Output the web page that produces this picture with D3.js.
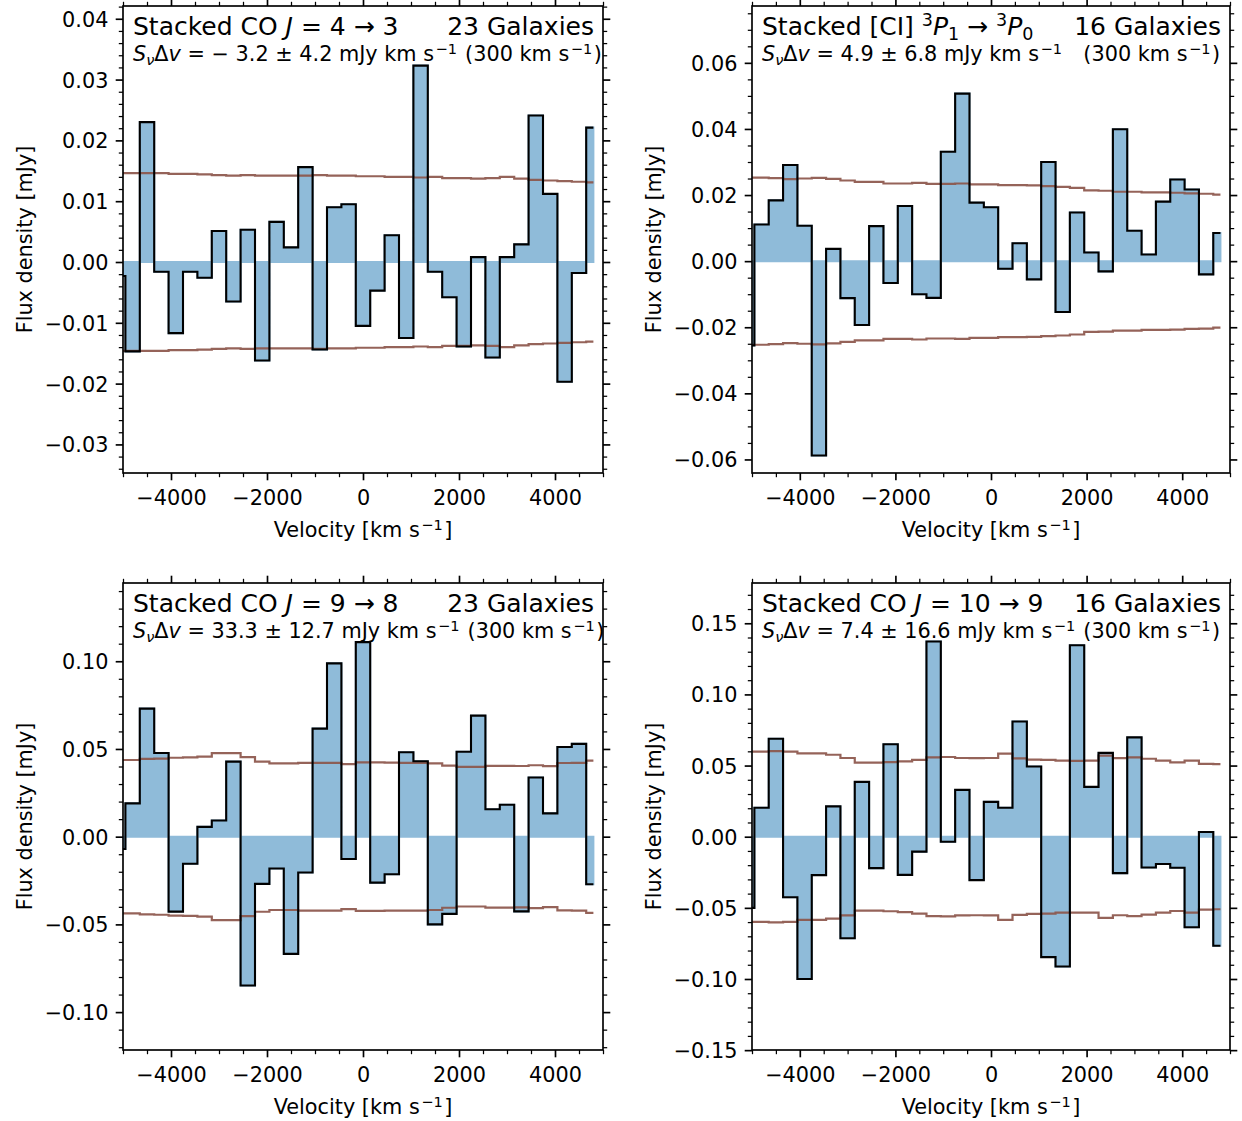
<!DOCTYPE html>
<html><head><meta charset="utf-8">
<script src="https://cdn.jsdelivr.net/npm/d3@7"></script>
<style>
body{margin:0;background:#fff}
svg text{font-family:"DejaVu Sans",sans-serif;white-space:pre}
</style></head><body>
<svg id="c" width="1242" height="1121" xmlns="http://www.w3.org/2000/svg"></svg>
<script>
// ---------------- data ----------------
const velocity = [-5100,-4800,-4500,-4200,-3900,-3600,-3300,-3000,-2700,-2400,-2100,-1800,-1500,-1200,-900,-600,-300,0,300,600,900,1200,1500,1800,2100,2400,2700,3000,3300,3600,3900,4200,4500,4800];
const xTicks = [-4000,-2000,0,2000,4000];

const co43Flux = [-0.0023,-0.0147,0.0230,-0.0016,-0.0117,-0.0016,-0.0026,0.0051,-0.0065,0.0053,-0.0162,0.0066,0.0024,0.0156,-0.0144,0.0090,0.0095,-0.0105,-0.0047,0.0044,-0.0125,0.0323,-0.0016,-0.0058,-0.0139,0.0008,-0.0157,0.0008,0.0029,0.0241,0.0112,-0.0197,-0.0018,0.0221];
const co43Rms = [0.0146,0.0146,0.0146,0.0146,0.0145,0.0145,0.0144,0.0143,0.0142,0.0143,0.0142,0.0142,0.0142,0.0142,0.0143,0.0142,0.0142,0.0141,0.0141,0.0140,0.0140,0.0139,0.0140,0.0138,0.0138,0.0137,0.0138,0.0140,0.0137,0.0135,0.0134,0.0133,0.0132,0.0131];

const ciFlux = [-0.0255,0.0111,0.0184,0.0291,0.0107,-0.0588,0.0037,-0.0112,-0.0193,0.0106,-0.0066,0.0167,-0.0100,-0.0111,0.0331,0.0507,0.0177,0.0163,-0.0023,0.0054,-0.0055,0.0300,-0.0154,0.0147,0.0026,-0.0031,0.0399,0.0092,0.0020,0.0180,0.0247,0.0217,-0.0040,0.0085];
const ciRms = [0.0253,0.0253,0.0251,0.0248,0.0250,0.0252,0.0249,0.0244,0.0240,0.0240,0.0235,0.0235,0.0237,0.0234,0.0234,0.0235,0.0232,0.0232,0.0230,0.0230,0.0229,0.0227,0.0225,0.0222,0.0214,0.0213,0.0210,0.0210,0.0208,0.0208,0.0207,0.0205,0.0204,0.0201];

const co98Flux = [-0.0070,0.0190,0.0730,0.0477,-0.0427,-0.0154,0.0056,0.0092,0.0428,-0.0848,-0.0269,-0.0181,-0.0668,-0.0204,0.0616,0.0988,-0.0127,0.1109,-0.0262,-0.0214,0.0481,0.0430,-0.0500,-0.0440,0.0484,0.0690,0.0156,0.0182,-0.0426,0.0337,0.0133,0.0511,0.0529,-0.0271];
const co98Rms = [0.0437,0.0437,0.0443,0.0445,0.0450,0.0452,0.0456,0.0476,0.0476,0.0453,0.0428,0.0418,0.0418,0.0421,0.0421,0.0421,0.0413,0.0423,0.0423,0.0422,0.0421,0.0421,0.0418,0.0405,0.0398,0.0398,0.0404,0.0404,0.0403,0.0407,0.0402,0.0420,0.0421,0.0434];

const co109Flux = [-0.0500,0.0203,0.0688,-0.0426,-0.1000,-0.0270,0.0213,-0.0714,0.0385,-0.0221,0.0650,-0.0268,-0.0105,0.1372,-0.0035,0.0329,-0.0305,0.0245,0.0203,0.0810,0.0493,-0.0846,-0.0912,0.1345,0.0350,0.0589,-0.0256,0.0698,-0.0216,-0.0192,-0.0218,-0.0636,0.0033,-0.0766];
const co109Rms = [0.0598,0.0598,0.0602,0.0598,0.0585,0.0585,0.0576,0.0553,0.0520,0.0520,0.0524,0.0530,0.0540,0.0558,0.0560,0.0553,0.0552,0.0553,0.0584,0.0550,0.0542,0.0540,0.0534,0.0533,0.0534,0.0570,0.0552,0.0558,0.0548,0.0534,0.0522,0.0534,0.0512,0.0510];

const yTicksCo43 = [-0.03,-0.02,-0.01,0,0.01,0.02,0.03,0.04];
const yTicksCi = [-0.06,-0.04,-0.02,0,0.02,0.04,0.06];
const yTicksCo98 = [-0.10,-0.05,0,0.05,0.10];
const yTicksCo109 = [-0.15,-0.10,-0.05,0,0.05,0.10,0.15];

// ---------------- layout ----------------
const cols = [[123,603],[752,1230]];
const rows = [[6,473],[583,1050]];
const FS = 20.8, TFS = 25;
const fillColor = "#8fbbd9", lineColor = "#000", rmsColor = "#8c564b";

const panels = [
  {flux:co43Flux, rms:co43Rms, yDomain:[-0.0347,0.0421], yTicks:yTicksCo43, yMinor:0.002, col:0, row:0,
   title:[{t:"Stacked CO "},{t:"J",i:1},{t:" = 4 → 3"}], count:"23 Galaxies",
   line:[{t:"S",i:1},{t:"ν",k:"sub",i:1},{t:"Δ"},{t:"v",i:1},{t:" = − 3.2 ± 4.2 mJy km s"},{t:"−1",k:"sup"},{t:" (300 km s"},{t:"−1",k:"sup"},{t:")"}]},
  {flux:ciFlux, rms:ciRms, yDomain:[-0.0641,0.0772], yTicks:yTicksCi, yMinor:0.005, col:1, row:0,
   title:[{t:"Stacked [CI] "},{t:"3",k:"sup"},{t:"P",i:1},{t:"1",k:"sub"},{t:" → "},{t:"3",k:"sup"},{t:"P",i:1},{t:"0",k:"sub"}], count:"16 Galaxies",
   line:[{t:"S",i:1},{t:"ν",k:"sub",i:1},{t:"Δ"},{t:"v",i:1},{t:" = 4.9 ± 6.8 mJy km s"},{t:"−1",k:"sup"},{t:"   (300 km s"},{t:"−1",k:"sup"},{t:")"}]},
  {flux:co98Flux, rms:co98Rms, yDomain:[-0.1216,0.1446], yTicks:yTicksCo98, yMinor:0.01, col:0, row:1,
   title:[{t:"Stacked CO "},{t:"J",i:1},{t:" = 9 → 8"}], count:"23 Galaxies",
   line:[{t:"S",i:1},{t:"ν",k:"sub",i:1},{t:"Δ"},{t:"v",i:1},{t:" = 33.3 ± 12.7 mJy km s"},{t:"−1",k:"sup"},{t:" (300 km s"},{t:"−1",k:"sup"},{t:")"}]},
  {flux:co109Flux, rms:co109Rms, yDomain:[-0.1499,0.1783], yTicks:yTicksCo109, yMinor:0.01, col:1, row:1,
   title:[{t:"Stacked CO "},{t:"J",i:1},{t:" = 10 → 9"}], count:"16 Galaxies",
   line:[{t:"S",i:1},{t:"ν",k:"sub",i:1},{t:"Δ"},{t:"v",i:1},{t:" = 7.4 ± 16.6 mJy km s"},{t:"−1",k:"sup"},{t:" (300 km s"},{t:"−1",k:"sup"},{t:")"}]}
];

const svg = d3.select("#c");

function rich(sel, parts, fs, supGap){
  let shift = 0, prevSup = false;
  parts.forEach(p=>{
    const ts = sel.append("tspan").text(p.t);
    const target = p.k==="sup" ? -0.36*fs : (p.k==="sub" ? 0.2*fs : 0);
    if (target !== shift) ts.attr("dy", target - shift);
    shift = target;
    if (p.k) ts.attr("font-size", 0.7*fs);
    if (p.i) ts.attr("font-style","italic");
    if (supGap && (p.k==="sup" || prevSup)) ts.attr("dx", supGap);
    prevSup = p.k==="sup";
  });
}

const fmtY = d3.format(".2f");

panels.forEach((p, idx)=>{
  const [x0,x1] = cols[p.col], [y0,y1] = rows[p.row];
  const x = d3.scaleLinear().domain([-5000,5000]).range([x0,x1]);
  const y = d3.scaleLinear().domain(p.yDomain).range([y1,y0]);
  const g = svg.append("g");
  const cid = "clip"+idx;
  svg.append("clipPath").attr("id",cid).append("rect")
    .attr("x",x0).attr("y",y0).attr("width",x1-x0).attr("height",y1-y0);
  const data = velocity.map((v,i)=>({v, f:p.flux[i], r:p.rms[i]}));
  const plot = g.append("g").attr("clip-path",`url(#${cid})`);

  const area = d3.area().curve(d3.curveStep).x(d=>x(d.v)).y0(y(0)).y1(d=>y(d.f));
  plot.append("path").attr("d",area(data)).attr("fill",fillColor)
    .attr("stroke",fillColor).attr("stroke-width",2);

  const rmsUp = d3.line().curve(d3.curveStep).x(d=>x(d.v)).y(d=>y(d.r));
  const rmsDn = d3.line().curve(d3.curveStep).x(d=>x(d.v)).y(d=>y(-d.r));
  [rmsUp, rmsDn].forEach(l=>plot.append("path").attr("d",l(data)).attr("fill","none")
    .attr("stroke",rmsColor).attr("stroke-width",2.2).attr("stroke-opacity",0.92));

  const step = d3.line().curve(d3.curveStep).x(d=>x(d.v)).y(d=>y(d.f));
  plot.append("path").attr("d",step(data)).attr("fill","none")
    .attr("stroke",lineColor).attr("stroke-width",2.1).attr("stroke-linejoin","miter");

  // axes
  const xMinor = d3.range(-5000,5001,500).filter(v=>!xTicks.includes(v));
  const [ylo,yhi] = p.yDomain;
  const yMinor = d3.range(Math.ceil(ylo/p.yMinor)*p.yMinor, yhi, p.yMinor)
     .filter(v=>!p.yTicks.some(t=>Math.abs(t-v)<1e-9));

  function styleAxis(a, major){
    a.select(".domain").remove();
    a.selectAll("line").attr("stroke","#000").attr("stroke-width", major?1.67:1.25);
    a.selectAll("text").attr("font-size",FS).attr("fill","#000").attr("font-family","DejaVu Sans");
  }
  // bottom
  let a = g.append("g").attr("transform",`translate(0,${y1})`)
    .call(d3.axisBottom(x).tickValues(xTicks).tickSize(7.3).tickPadding(7.3).tickFormat(d3.format("d")));
  styleAxis(a,true); a.selectAll("text").attr("dy","0.84em");
  a = g.append("g").attr("transform",`translate(0,${y1})`)
    .call(d3.axisBottom(x).tickValues(xMinor).tickSize(4.2).tickFormat(""));
  styleAxis(a,false);
  // top
  a = g.append("g").attr("transform",`translate(0,${y0})`)
    .call(d3.axisTop(x).tickValues(xTicks).tickSize(7.3).tickFormat(""));
  styleAxis(a,true);
  a = g.append("g").attr("transform",`translate(0,${y0})`)
    .call(d3.axisTop(x).tickValues(xMinor).tickSize(4.2).tickFormat(""));
  styleAxis(a,false);
  // left
  a = g.append("g").attr("transform",`translate(${x0},0)`)
    .call(d3.axisLeft(y).tickValues(p.yTicks).tickSize(7.3).tickPadding(7.3).tickFormat(fmtY));
  styleAxis(a,true); a.selectAll("text").attr("dy","0.36em");
  a = g.append("g").attr("transform",`translate(${x0},0)`)
    .call(d3.axisLeft(y).tickValues(yMinor).tickSize(4.2).tickFormat(""));
  styleAxis(a,false);
  // right
  a = g.append("g").attr("transform",`translate(${x1},0)`)
    .call(d3.axisRight(y).tickValues(p.yTicks).tickSize(7.3).tickFormat(""));
  styleAxis(a,true);
  a = g.append("g").attr("transform",`translate(${x1},0)`)
    .call(d3.axisRight(y).tickValues(yMinor).tickSize(4.2).tickFormat(""));
  styleAxis(a,false);

  g.append("rect").attr("x",x0).attr("y",y0).attr("width",x1-x0).attr("height",y1-y0)
    .attr("fill","none").attr("stroke","#000").attr("stroke-width",1.67);

  // axis labels
  const xl = g.append("text").attr("x",(x0+x1)/2).attr("y",y1+64).attr("text-anchor","middle")
    .attr("font-size",FS);
  rich(xl,[{t:"Velocity [km s"},{t:"−1",k:"sup"},{t:"]"}],FS,1.5);
  g.append("text").attr("transform",`translate(${x0-91.3},${(y0+y1)/2}) rotate(-90)`)
    .attr("text-anchor","middle").attr("font-size",FS).text("Flux density [mJy]");

  // annotations
  const t1 = g.append("text").attr("x",x0+10).attr("y",y0+29).attr("font-size",TFS);
  rich(t1,p.title,TFS);
  g.append("text").attr("x",x1-9).attr("y",y0+29).attr("text-anchor","end").attr("font-size",TFS).text(p.count);
  const t2 = g.append("text").attr("x",x0+10).attr("y",y0+55).attr("font-size",FS);
  rich(t2,p.line,FS,1.5);
});
</script>
</body></html>
